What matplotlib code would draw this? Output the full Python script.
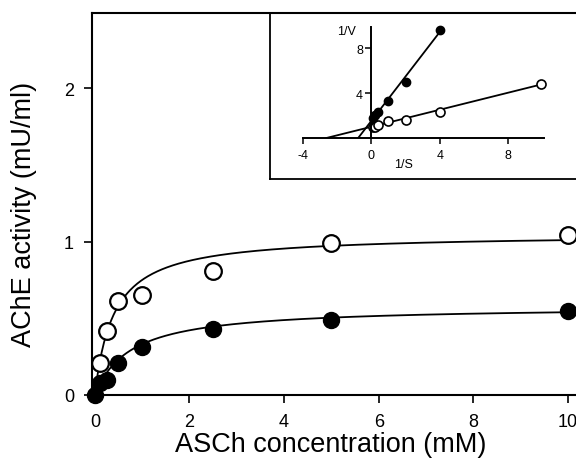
import numpy as np
import matplotlib as mpl

mpl.use("Agg")
import matplotlib.pyplot as plt

# main plot: ASCh concentration (mM) vs AChE activity (mU/ml)
S_OPEN = [0.1, 0.25, 0.5, 1.0, 2.5, 5.0, 10.0]
V_OPEN = [0.21, 0.42, 0.61, 0.65, 0.81, 0.99, 1.04]
S_FILLED = [0.0, 0.1, 0.25, 0.5, 1.0, 2.5, 5.0, 10.0]
V_FILLED = [0.0, 0.08, 0.10, 0.21, 0.31, 0.43, 0.49, 0.55]

# Michaelis-Menten fit parameters (Vmax, Km)
FIT_OPEN = (1.05, 0.40)
FIT_FILLED = (0.58, 0.75)

# inset: Lineweaver-Burk plot
INV_S_OPEN = [0.1, 0.2, 0.4, 1.0, 2.0, 4.0, 9.9]
INV_V_OPEN = [0.96, 1.02, 1.2, 1.5, 1.6, 2.3, 4.8]
INV_S_FILLED = [0.1, 0.2, 0.4, 1.0, 2.0, 4.0]
INV_V_FILLED = [1.8, 2.05, 2.35, 3.3, 5.0, 9.6]
LINE_OPEN = (0.38, 1.0)     # slope, intercept
LINE_FILLED = (1.98, 1.53)

plt.rcParams["font.family"] = "Liberation Sans"
plt.rcParams["axes.unicode_minus"] = False

fig = plt.figure(figsize=(5.76, 4.6), dpi=100)
ax = fig.add_axes([92 / 576, 1 - 396 / 460, 1 - 92 / 576, 382 / 460])

s = np.linspace(0.02, 10.0, 400)
for (vmax, km) in (FIT_OPEN, FIT_FILLED):
    ax.plot(s, vmax * s / (km + s), color="black", lw=1.3, zorder=2)

ax.plot(S_OPEN, V_OPEN, "o", ms=12, mfc="white", mec="black", mew=1.6,
        clip_on=False, zorder=3)
ax.plot(S_FILLED, V_FILLED, "o", ms=11.5, mfc="black", mec="black",
        clip_on=False, zorder=3)

ax.set_xlim(-0.06, 10.17)
ax.set_ylim(0, 2.49)
ax.set_xticks([0, 2, 4, 6, 8, 10])
ax.set_yticks([0, 1, 2])
ax.spines["right"].set_visible(False)
for sp in ("left", "bottom", "top"):
    ax.spines[sp].set_linewidth(1.5)
ax.tick_params(direction="out", length=6, width=1.2, labelsize=13, pad=7)
ax.set_xlabel("ASCh concentration (mM)", fontsize=19.5)
ax.set_ylabel("AChE activity (mU/ml)", fontsize=19.5)
ax.xaxis.set_label_coords(0.494, -0.095)
ax.yaxis.set_label_coords(-0.113, 0.476)

# inset frame (left and bottom border lines)
fig.add_artist(plt.Line2D([270 / 576, 270 / 576], [1 - 180 / 460, 1 - 14 / 460],
                          color="black", lw=1.3, transform=fig.transFigure))
fig.add_artist(plt.Line2D([270 / 576, 1.0], [1 - 180 / 460, 1 - 180 / 460],
                          color="black", lw=1.3, transform=fig.transFigure))

ins = fig.add_axes([303 / 576, 1 - 139 / 460, 241 / 576, 111 / 460])
ins.patch.set_alpha(0)
for (slope, icpt), xmax in ((LINE_OPEN, max(INV_S_OPEN)), (LINE_FILLED, max(INV_S_FILLED))):
    x0 = -icpt / slope
    xs = np.array([x0, xmax])
    ins.plot(xs, slope * xs + icpt, color="black", lw=1.3)
ins.plot(INV_S_OPEN, INV_V_OPEN, "o", ms=6.5, mfc="white", mec="black", mew=1.2,
         clip_on=False)
ins.plot(INV_S_FILLED, INV_V_FILLED, "o", ms=6, mfc="black", mec="black",
         clip_on=False)
ins.set_xlim(-3.9, 10.1)
ins.set_ylim(0, 9.9)
ins.spines["left"].set_position(("data", 0))
ins.spines["right"].set_visible(False)
ins.spines["top"].set_visible(False)
ins.spines["left"].set_linewidth(1.4)
ins.spines["bottom"].set_linewidth(1.4)
ins.set_xticks([-4, 0, 4, 8])
ins.set_yticks([4, 8])
ins.tick_params(direction="out", length=4, width=1.1, labelsize=9)
ins.tick_params(axis="x", pad=4)
ins.tick_params(axis="y", pad=2)
ins.text(-0.9, 9.5, "1/V", fontsize=9, ha="right", va="center")
ins.text(1.9, -2.3, "1/S", fontsize=9, ha="center", va="center")

fig.savefig("out.png", dpi=100)
